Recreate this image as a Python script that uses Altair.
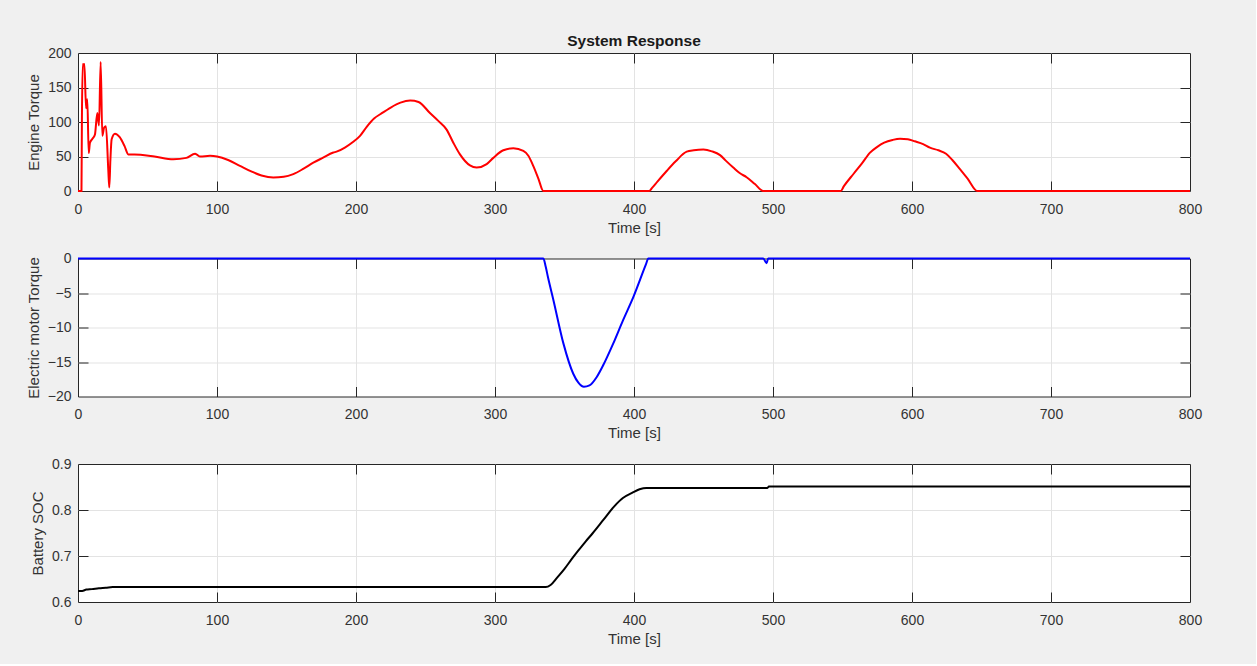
import altair as alt
import pandas as pd

# ---------------- data ----------------
time_ticks = [0, 100, 200, 300, 400, 500, 600, 700, 800]

engine_t = [0, 2.5, 2.8, 3.4, 4.0, 4.6, 5.8, 6.7, 7.7, 8.6, 10.5, 12.2, 13.9, 15.1,
            16.3, 17.5, 18.8, 20.1, 21.8, 22.5, 23.3, 24.2, 26.6, 30.0, 33.5, 36.2,
            45, 55, 68.6, 78, 84.2, 86, 87.8, 95, 100, 108, 116.5, 125, 132, 140.5,
            148, 154.9, 162, 169.3, 176, 183.7, 186, 192, 197.8, 202.9, 207.7, 213,
            218, 225, 232, 239, 245, 253.2, 259, 265.2, 270, 274.8, 282, 286.8, 294,
            298.8, 306, 313.2, 320.4, 324, 327.6, 331.2, 334.8, 411, 413, 417, 423.5, 430,
            437.9, 443, 449.9, 456, 461.9, 466, 471.4, 476, 481, 487, 493, 548.7, 551, 558,
            564, 569.8, 575, 580, 586, 591.4, 597, 602, 608, 612.9, 619, 624.5, 629,
            634.5, 640, 647, 800]
engine_v = [0, 0, 100, 184, 182, 184, 120, 133, 55, 70, 76, 82, 113, 95,
            187, 80, 92, 94, 30, 5, 45, 75, 83, 78, 65, 53,
            52.5, 50, 46, 48, 54, 52, 50, 51, 50, 45, 36.5, 28, 22.5, 19.5,
            20.5, 24.5, 32, 41, 48, 55.7, 57, 63, 71, 80, 93, 105,
            112, 121, 128, 131, 129, 113, 102, 89, 70, 53, 37, 34, 39,
            48, 59, 62, 58, 51, 36, 18, 0, 0, 4.5, 14, 29, 43,
            57, 59, 60, 57.5, 52, 44, 34, 26, 20, 10, 0, 0, 7, 25,
            40, 55.6, 64, 70, 74, 75.8, 75, 72, 68, 62.8, 59, 54, 45,
            31.7, 18, 0, 0]

motor_t = [0, 334.8, 336.5, 338, 342, 349.2, 356.3, 360, 364, 368, 373.1, 378, 385.1,
           392, 399.5, 408.5, 410.3, 493, 495.4, 496.5, 800]
motor_v = [0, 0, -1.2, -2.6, -6.0, -12.3, -16.7, -18.0, -18.6, -18.4, -17.2, -15.4, -12.3,
           -9.0, -5.6, -0.9, 0, 0, -0.7, 0, 0]

soc_t = [0, 3, 6, 10, 15, 20, 25, 336.5, 340, 344.7, 350, 355, 360, 365.3, 370.4,
         378.1, 385.8, 392, 398.6, 404, 408.9, 496, 497, 800]
soc_v = [0.624, 0.624, 0.627, 0.628, 0.630, 0.631, 0.6325, 0.6325, 0.637, 0.653,
         0.672, 0.6925, 0.712, 0.732, 0.750, 0.779, 0.808, 0.826, 0.837, 0.845,
         0.848, 0.848, 0.851, 0.851]

engine_ticks = [0, 50, 100, 150, 200]
motor_ticks = [-20, -15, -10, -5, 0]
soc_ticks = [0.6, 0.7, 0.8, 0.9]

# ---------------- styling ----------------
FONT = "Liberation Sans"
TXT = "#333333"
EDGE = "#262626"
GRID = "#e3e3e3"
W, H = 1112, 138


def frame(t, v):
    return pd.DataFrame({"t": t, "v": v, "i": list(range(len(t)))})


def panel(df, color, ydomain, yticks, ytitle, title=None):
    xs = alt.Scale(domain=[0, 800], nice=False, zero=False)
    ys = alt.Scale(domain=ydomain, nice=False, zero=False)
    x_inner = time_ticks[1:-1]
    y_inner = yticks[1:-1]
    base = alt.Chart(df)
    # grid lines (interior only, so the dark box edges stay visible)
    grid = base.mark_line(opacity=0).encode(
        x=alt.X("t:Q", scale=xs, axis=alt.Axis(
            values=x_inner, orient="bottom", grid=True, gridColor=GRID, gridWidth=1,
            ticks=False, labels=False, domain=False, title=None)),
        y=alt.Y("v:Q", scale=ys, axis=alt.Axis(
            values=y_inner, orient="left", grid=True, gridColor=GRID, gridWidth=1,
            ticks=False, labels=False, domain=False, title=None)),
        order=alt.Order("i:Q"),
    )
    main = base.mark_line(color=color, strokeWidth=2, clip=False,
                          interpolate="monotone").encode(
        x=alt.X("t:Q", scale=xs, axis=alt.Axis(
            values=time_ticks, title="Time [s]", grid=False, orient="bottom",
            ticks=False, tickSize=0, domain=False, labelPadding=11,
            labelFont=FONT, labelFontSize=14, labelColor=TXT,
            titleFont=FONT, titleFontSize=15, titleFontWeight="normal",
            titleColor=TXT, titlePadding=4, labelFlush=False)),
        y=alt.Y("v:Q", scale=ys, axis=alt.Axis(
            values=yticks, title=ytitle, grid=False, orient="left",
            ticks=False, tickSize=0, domain=False, labelPadding=7,
            labelFont=FONT, labelFontSize=14, labelColor=TXT,
            titleFont=FONT, titleFontSize=15, titleFontWeight="normal",
            titleColor=TXT, titlePadding=6, labelFlush=False)),
        order=alt.Order("i:Q"),
    )
    tick_axis = dict(tickSize=10, tickColor=EDGE, tickWidth=1, labels=False,
                     domain=False, grid=False, title=None, offset=-10)
    t1 = base.mark_line(opacity=0).encode(
        x=alt.X("t:Q", scale=xs, axis=alt.Axis(values=x_inner, orient="bottom", **tick_axis)),
        y=alt.Y("v:Q", scale=ys, axis=alt.Axis(values=y_inner, orient="left", **tick_axis)),
        order=alt.Order("i:Q"),
    )
    t2 = base.mark_line(opacity=0).encode(
        x=alt.X("t:Q", scale=xs, axis=alt.Axis(values=x_inner, orient="top", **tick_axis)),
        y=alt.Y("v:Q", scale=ys, axis=alt.Axis(values=y_inner, orient="right", **tick_axis)),
        order=alt.Order("i:Q"),
    )
    props = dict(width=W, height=H)
    if title:
        props["title"] = alt.TitleParams(title, font=FONT, fontSize=15.5, fontWeight="bold",
                                         color="#1a1a1a", anchor="middle", frame="group",
                                         offset=-3)
    return alt.layer(grid, main, t1, t2).resolve_axis(
        x="independent", y="independent").properties(**props)


p1 = panel(frame(engine_t, engine_v), "#ff0000", [0, 200], engine_ticks, "Engine Torque",
           title="System Response")
p2 = panel(frame(motor_t, motor_v), "#0000ff", [-20, 0], motor_ticks, "Electric motor Torque")
p3 = panel(frame(soc_t, soc_v), "#000000", [0.6, 0.9], soc_ticks, "Battery SOC")

chart = alt.vconcat(p1, p2, p3, spacing=67.5, bounds="flush").configure_view(
    stroke=EDGE, strokeWidth=1, fill="white"
).properties(
    background="#f0f0f0",
    padding={"left": 25, "top": 33, "right": 53, "bottom": 17},
)

chart.save("out.html", embed_options={"renderer": "svg", "actions": False})
